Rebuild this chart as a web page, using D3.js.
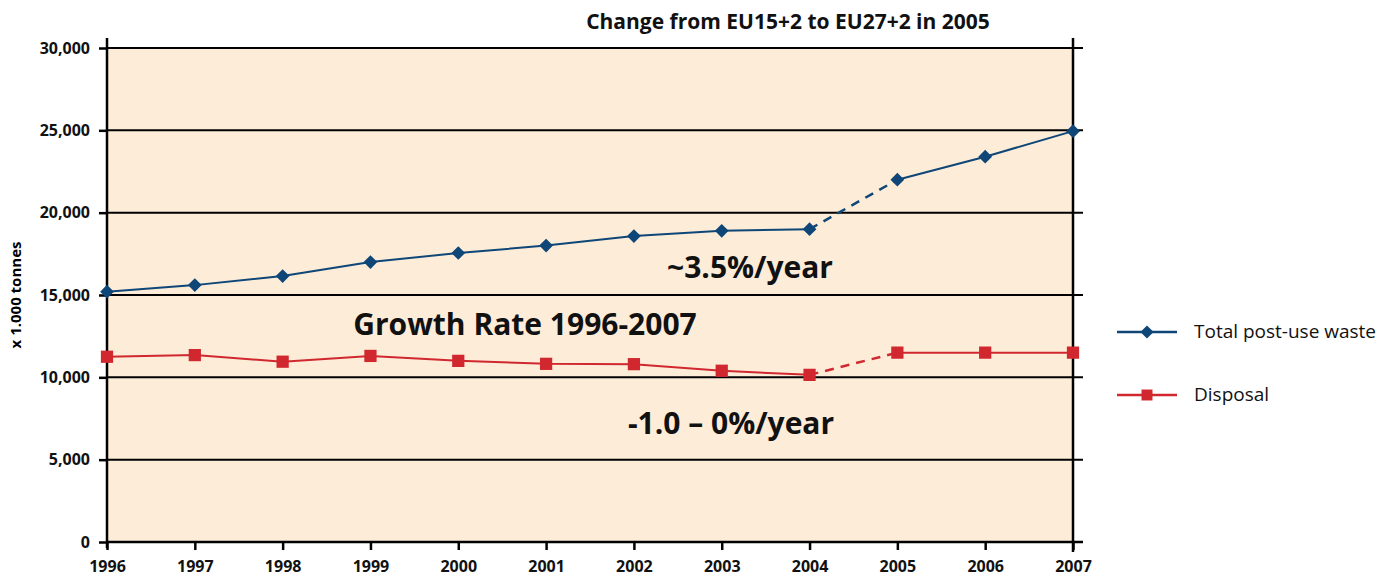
<!DOCTYPE html>
<html>
<head>
<meta charset="utf-8">
<script src="https://cdn.jsdelivr.net/npm/d3@7"></script>
<style>
  body { margin: 0; background: #fff; }
  svg text { font-family: "Open Sans", "Noto Sans", sans-serif; }
</style>
</head>
<body>
<svg id="chart" width="1395" height="578"></svg>
<script>
var years = [1996, 1997, 1998, 1999, 2000, 2001, 2002, 2003, 2004, 2005, 2006, 2007];
var totalWaste = [15200, 15600, 16150, 17000, 17550, 18000, 18580, 18900, 19000, 22000, 23400, 24950];
var disposal = [11250, 11350, 10950, 11300, 11000, 10820, 10800, 10400, 10150, 11500, 11500, 11500];
var yTicks = [0, 5000, 10000, 15000, 20000, 25000, 30000];
var dashFrom = 2004; // segment 2004-2005 drawn dashed (EU15+2 -> EU27+2)

var svg = d3.select('#chart');
var m = { left: 107, right: 1073, top: 48, bottom: 542 };

var x = d3.scalePoint().domain(years).range([m.left, m.right]);
var y = d3.scaleLinear().domain([0, 30000]).range([m.bottom, m.top]);

// plot background
svg.append('rect')
  .attr('x', m.left).attr('y', m.top)
  .attr('width', m.right - m.left).attr('height', m.bottom - m.top)
  .style('fill', '#fdecd8');

// grid lines
svg.append('g').selectAll('line')
  .data(yTicks.filter(function(d) { return d > 0; }))
  .enter().append('line')
    .attr('x1', m.left).attr('x2', m.right + 10)
    .attr('y1', function(d) { return y(d); })
    .attr('y2', function(d) { return y(d); })
    .style('stroke', '#000').style('stroke-width', 2);

// y axis
var yAxis = svg.append('g')
  .attr('transform', 'translate(' + m.left + ',0)')
  .call(d3.axisLeft(y).tickValues(yTicks).tickSize(8).tickPadding(9)
    .tickFormat(d3.format(',')));
yAxis.select('.domain').remove();
yAxis.append('line').attr('x1', 0).attr('x2', 0)
  .attr('y1', m.top - 10).attr('y2', m.bottom + 6)
  .style('stroke', '#000').style('stroke-width', 2.5);

// x axis
var xAxis = svg.append('g')
  .attr('transform', 'translate(0,' + m.bottom + ')')
  .call(d3.axisBottom(x).tickSize(8).tickPadding(11));
xAxis.select('.domain').remove();
xAxis.append('line').attr('x1', m.left).attr('x2', m.right + 10)
  .attr('y1', 0).attr('y2', 0)
  .style('stroke', '#000').style('stroke-width', 2.5);

[yAxis, xAxis].forEach(function(a) {
  a.selectAll('.tick line').style('stroke', '#000').style('stroke-width', 2.5);
  a.selectAll('.tick text')
    .style('font-size', '16px').style('font-weight', 'bold').style('fill', '#111');
});

// right vertical line (2005 onward region border)
svg.append('line')
  .attr('x1', m.right).attr('x2', m.right)
  .attr('y1', m.top - 10).attr('y2', m.bottom + 10)
  .style('stroke', '#000').style('stroke-width', 2.5);

// y axis title
svg.append('text')
  .attr('transform', 'translate(21,' + ((m.top + m.bottom) / 2) + ') rotate(-90)')
  .attr('text-anchor', 'middle')
  .style('font-size', '15px').style('font-weight', 'bold')
  .text('x 1.000 tonnes');

// title
svg.append('text')
  .attr('x', 788).attr('y', 29)
  .attr('text-anchor', 'middle')
  .style('font-size', '21px').style('font-weight', 'bold').style('fill', '#111')
  .text('Change from EU15+2 to EU27+2 in 2005');

function drawSeries(values, color, shape, size) {
  var pts = years.map(function(yr, i) { return { year: yr, value: values[i] }; });
  var line = d3.line()
    .x(function(d) { return x(d.year); })
    .y(function(d) { return y(d.value); });
  var g = svg.append('g');
  var before = pts.filter(function(d) { return d.year <= dashFrom; });
  var dashed = pts.filter(function(d) { return d.year >= dashFrom && d.year <= dashFrom + 1; });
  var after = pts.filter(function(d) { return d.year >= dashFrom + 1; });
  [before, after].forEach(function(seg) {
    g.append('path').datum(seg).attr('d', line)
      .style('fill', 'none').style('stroke', color).style('stroke-width', 2);
  });
  g.append('path').datum(dashed).attr('d', line)
    .style('fill', 'none').style('stroke', color).style('stroke-width', 2.5)
    .style('stroke-dasharray', '9,7');
  g.selectAll('path.mark')
    .data(pts).enter().append('path')
      .attr('class', 'mark')
      .attr('transform', function(d) { return 'translate(' + x(d.year) + ',' + y(d.value) + ')'; })
      .attr('d', d3.symbol().type(shape).size(size))
      .style('fill', color);
}

var blue = '#0d4677';
var red = '#d0282e';
drawSeries(totalWaste, blue, d3.symbolDiamond2, 120);
drawSeries(disposal, red, d3.symbolSquare, 150);

// annotations
var notes = [
  { text: '~3.5%/year', x: 750, y: 278 },
  { text: 'Growth Rate 1996-2007', x: 525, y: 335 },
  { text: '-1.0 \u2013 0%/year', x: 731, y: 434 }
];
svg.append('g').selectAll('text')
  .data(notes).enter().append('text')
    .attr('x', function(d) { return d.x; })
    .attr('y', function(d) { return d.y; })
    .attr('text-anchor', 'middle')
    .style('font-size', '30px').style('font-weight', 'bold').style('fill', '#111')
    .text(function(d) { return d.text; });

// legend
var legend = [
  { name: 'Total post-use waste', color: blue, shape: d3.symbolDiamond2, size: 110, y: 332 },
  { name: 'Disposal', color: red, shape: d3.symbolSquare, size: 120, y: 395 }
];
var lg = svg.append('g').selectAll('g')
  .data(legend).enter().append('g')
    .attr('transform', function(d) { return 'translate(1117,' + d.y + ')'; });
lg.append('line').attr('x1', 0).attr('x2', 60)
  .style('stroke', function(d) { return d.color; }).style('stroke-width', 2.5);
lg.append('path').attr('transform', 'translate(30,0)')
  .attr('d', function(d) { return d3.symbol().type(d.shape).size(d.size)(); })
  .style('fill', function(d) { return d.color; });
lg.append('text').attr('x', 77).attr('y', 6)
  .style('font-size', '19px').style('fill', '#111')
  .text(function(d) { return d.name; });
</script>
</body>
</html>
